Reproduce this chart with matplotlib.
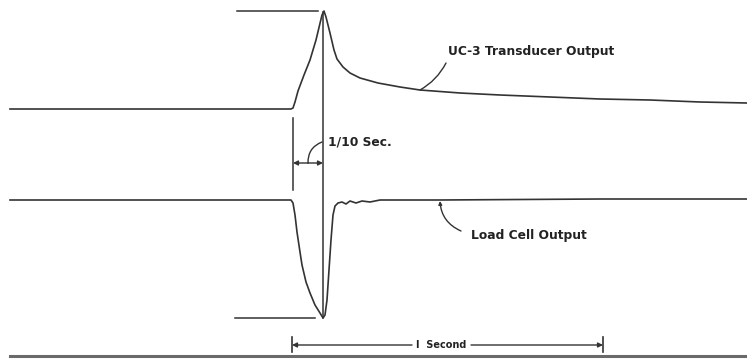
import matplotlib
matplotlib.use("Agg")
import matplotlib.pyplot as plt
import numpy as np

PX_PER_SEC = 311.0
X0 = 292.0

# Traces (time in seconds, vertical position in chart units, 0 at top)
uc3_t_px = [10, 291, 293, 295, 298, 304, 310, 316, 322, 324, 326, 330, 334, 337, 343, 350,
            360, 378, 400, 420, 460, 500, 550, 600, 650, 700, 747]
uc3_y = [109, 109, 108, 102, 91, 75, 60, 40, 15, 11, 17, 33, 50, 59, 67, 73,
         78, 83, 87, 90, 93, 95, 97, 99, 100, 102, 103]

load_t_px = [10, 291, 293, 295, 297, 300, 302, 306, 310, 315, 320, 323, 325, 327, 329, 331,
             333, 335, 338, 342, 346, 350, 356, 362, 370, 380, 440, 600, 747]
load_y = [200, 200, 203, 215, 232, 252, 265, 282, 293, 305, 313, 318, 315, 300, 270, 240,
          215, 206, 203, 202, 204, 201, 203, 201, 202, 200, 200, 199, 199]

labels = ["UC-3 Transducer Output", "Load Cell Output", "1/10 Sec.", "I  Second"]

def sec(px):
    return (np.asarray(px, dtype=float) - X0) / PX_PER_SEC

FONT = "DejaVu Sans Condensed"

fig = plt.figure(figsize=(7.47, 3.59), dpi=100)
ax = fig.add_axes([0, 0, 1, 1])
ax.set_xlim(sec(0), sec(747))
ax.set_ylim(359, 0)
ax.axis("off")

ink = "#333333"
ax.plot(sec(uc3_t_px), uc3_y, color=ink, lw=1.2)
ax.plot(sec(load_t_px), load_y, color=ink, lw=1.2)

# peak / trough marker lines
ax.plot(sec([237, 318]), [11, 11], color=ink, lw=1.1)
ax.plot(sec([235, 315]), [318, 318], color=ink, lw=1.1)
# vertical reference lines
ax.plot(sec([323, 323]), [12, 318], color=ink, lw=1.1)
ax.plot(sec([293, 293]), [118, 190], color=ink, lw=1.1)

# 1/10 sec dimension
for end in (293, 323):
    ax.annotate("", xy=(sec(end), 163), xytext=(sec(308), 163),
                arrowprops=dict(arrowstyle="-|>", color=ink, lw=1.0, mutation_scale=7,
                                shrinkA=0, shrinkB=0))
ax.annotate("", xy=(sec(308), 163), xytext=(sec(322), 142),
            arrowprops=dict(arrowstyle="-", color=ink, lw=1.0,
                            connectionstyle="arc3,rad=0.35", shrinkA=0, shrinkB=0))
ax.text(sec(328), 142, labels[2], fontsize=8.8, fontweight="bold", color="#222",
        family=FONT, va="center", ha="left")

# Trace labels with leaders
ax.annotate("", xy=(sec(420), 90), xytext=(sec(446), 63),
            arrowprops=dict(arrowstyle="-", color=ink, lw=1.0,
                            connectionstyle="arc3,rad=-0.15", shrinkA=0, shrinkB=0))
ax.text(sec(448), 52, labels[0], fontsize=8.8, fontweight="bold",
        color="#222", family=FONT, va="center", ha="left")

ax.annotate("", xy=(sec(440), 201), xytext=(sec(461), 231),
            arrowprops=dict(arrowstyle="-|>", color=ink, lw=1.0, mutation_scale=5,
                            connectionstyle="arc3,rad=-0.3", shrinkA=0, shrinkB=0))
ax.text(sec(471), 236, labels[1], fontsize=8.8, fontweight="bold",
        color="#222", family=FONT, va="center", ha="left")

# 1 second dimension
ax.plot(sec([292, 292]), [337, 352], color=ink, lw=1.2)
ax.plot(sec([603, 603]), [337, 352], color=ink, lw=1.2)
ax.annotate("", xy=(sec(292), 345), xytext=(sec(412), 345),
            arrowprops=dict(arrowstyle="-|>", color=ink, lw=1.0, mutation_scale=7,
                            shrinkA=0, shrinkB=0))
ax.annotate("", xy=(sec(603), 345), xytext=(sec(471), 345),
            arrowprops=dict(arrowstyle="-|>", color=ink, lw=1.0, mutation_scale=7,
                            shrinkA=0, shrinkB=0))
ax.text(sec(441), 345, labels[3], fontsize=7, fontweight="bold", color="#222",
        family=FONT, va="center", ha="center")

# bottom time base line
ax.plot(sec([10, 747]), [356, 356], color="#6a6a6a", lw=2.2)

fig.savefig("out.png", dpi=100, facecolor="white")
